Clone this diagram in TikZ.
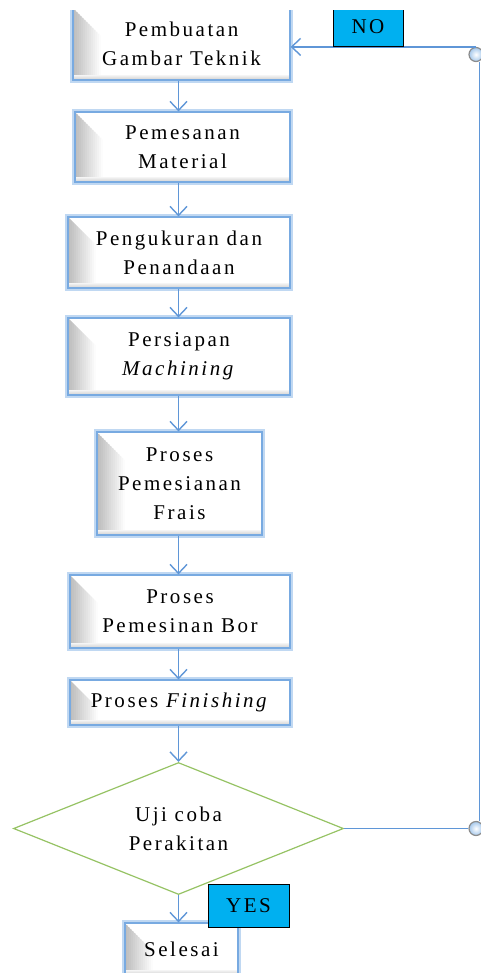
\documentclass[tikz,border=0pt]{standalone}
\usepackage{fontspec}
\setmainfont[LetterSpace=12]{Liberation Serif}
\usetikzlibrary{shapes.geometric,arrows.meta,calc}
\definecolor{glow}{RGB}{165,200,236}
\definecolor{edge}{RGB}{120,170,225}
\definecolor{conn}{RGB}{95,150,215}
\definecolor{lab}{RGB}{0,176,240}
\definecolor{dgreen}{RGB}{150,195,100}
\begin{document}
\begin{tikzpicture}[x=1pt,y=-1pt,
  txt/.style={font=\fontsize{21}{29}\selectfont},
  procbox/.style={txt, draw=edge, line width=1.2pt, fill=white,
    preaction={draw=glow, line width=6pt, opacity=0.7},
    inner sep=0pt, align=center,
    path picture={
      \begin{scope}
      \clip (path picture bounding box.north west) -- ++(28,28)
        -- ($(path picture bounding box.south west)+(28,0)$)
        -- (path picture bounding box.south west) -- cycle;
      \foreach \i in {0,...,13}{
        \pgfmathsetmacro{\shd}{26-1.9*\i}
        \fill[black!\shd] ($(path picture bounding box.north west)+(2*\i,0)$)
          rectangle ($(path picture bounding box.south west)+(2*\i+2.2,0)$);
      }
      \end{scope}
      \foreach \i in {0,...,4}{
        \pgfmathsetmacro{\shd}{4+3*\i}
        \fill[black!\shd] ($(path picture bounding box.south west)+(0,-5+\i)$)
          rectangle ($(path picture bounding box.south east)+(0,-4+\i)$);
      }
    }},
  decision/.style={txt, shape=diamond, draw=dgreen, line width=1.2pt,
    fill=white, align=center, inner sep=0pt, shape aspect=2.5},
  tag/.style={txt, draw=black, line width=1pt, fill=lab, inner sep=0pt},
  conn/.style={draw=conn, line width=1.4pt},
  arr/.style={conn, -{Straight Barb[length=9pt,width=17pt]}},
  corner/.style={circle, draw=black!45, line width=1.2pt,
    inner color=white, outer color=glow, minimum size=14pt, inner sep=0pt}]
\useasboundingbox (0,0) rectangle (481,973);
\begin{scope}
\clip (0,11) rectangle (481,973);
\node[procbox, minimum width=217pt, minimum height=72pt] (b1) at (181.5,44) {Pembuatan\\Gambar Teknik};
\node[procbox, minimum width=215pt, minimum height=70pt] (b2) at (182.5,147) {Pemesanan\\Material};
\node[procbox, minimum width=222pt, minimum height=71pt] (b3) at (179,252.5) {Pengukuran dan\\Penandaan};
\node[procbox, minimum width=222pt, minimum height=77pt] (b4) at (179,356.5) {Persiapan\\\textit{Machining}};
\node[procbox, minimum width=165pt, minimum height=103pt] (b5) at (179.5,483.5) {Proses\\Pemesianan\\Frais};
\node[procbox, minimum width=220pt, minimum height=73pt] (b6) at (180,611.5) {Proses\\Pemesinan Bor};
\node[procbox, minimum width=220pt, minimum height=45pt] (b7) at (180,702.5) {Proses \textit{Finishing}};
\node[decision, minimum width=330pt, minimum height=132pt] (dia) at (178.5,828.5) {Uji coba\\Perakitan};
\node[procbox, minimum width=113pt, minimum height=52pt] (b8) at (181.5,949) {Selesai};

\coordinate (ax) at (178.5,0);
\draw[arr] (b1.south -| ax) -- (b2.north -| ax);
\draw[arr] (b2.south -| ax) -- (b3.north -| ax);
\draw[arr] (b3.south -| ax) -- (b4.north -| ax);
\draw[arr] (b4.south -| ax) -- (b5.north -| ax);
\draw[arr] (b5.south -| ax) -- (b6.north -| ax);
\draw[arr] (b6.south -| ax) -- (b7.north -| ax);
\draw[arr] (b7.south -| ax) -- (dia.north);
\draw[arr] (dia.south) -- (b8.north -| dia.south);

\node[corner] (ct) at (476,54.5) {};
\node[corner] (cb) at (476,828.5) {};
\coordinate (vx) at (479.5,0);
\draw[conn] (dia.east) -- (cb.west);
\draw[conn] (ct.south -| vx) -- (cb.north -| vx);
\draw[arr] (ct.north) -- (ct.north -| b1.east);

\node[tag, minimum width=70pt, minimum height=40pt] (no) at (368,27) {NO};
\node[tag, minimum width=81pt, minimum height=43pt] (yes) at (248.5,905.5) {YES};
\end{scope}
\end{tikzpicture}
\end{document}
